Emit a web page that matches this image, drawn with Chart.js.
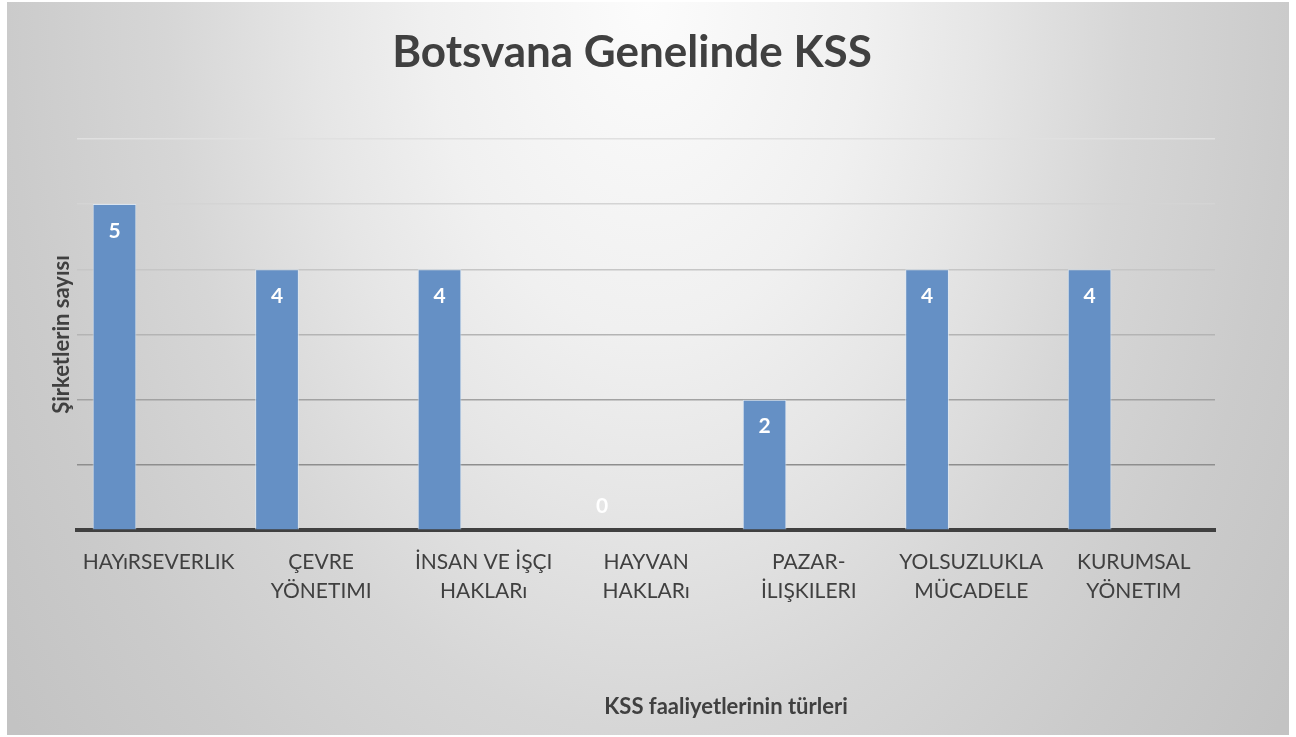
<!DOCTYPE html>
<html>
<head>
<meta charset="utf-8">
<script src="https://cdn.jsdelivr.net/npm/chart.js@4"></script>
<style>
  html, body { margin: 0; padding: 0; background: #fff; width: 1296px; height: 737px; overflow: hidden; }
  #wrap {
    position: absolute; left: 7px; top: 2px; width: 1282px; height: 733px;
    background: radial-gradient(660px 1000px at 50% 0%, #fcfcfc 0%, #f0f0f0 33%, #e6e6e6 50%, #d6d6d6 73%, #cbcbcb 97%, #c3c3c3 120%);
  }
  canvas { display: block; }
</style>
</head>
<body>
<div id="wrap"><canvas id="chart" width="1282" height="733"></canvas></div>
<script>
const categories = [
  ["HAYıRSEVERLIK"],
  ["ÇEVRE", "YÖNETIMI"],
  ["İNSAN VE İŞÇI", "HAKLARı"],
  ["HAYVAN", "HAKLARı"],
  ["PAZAR-", "İLIŞKILERI"],
  ["YOLSUZLUKLA", "MÜCADELE"],
  ["KURUMSAL", "YÖNETIM"]
];
const companies = [5, 4, 4, 0, 2, 4, 4];
// Excel chart had two more (empty) series, which is why bars sit left in each slot
const series2 = [null, null, null, null, null, null, null];
const series3 = [null, null, null, null, null, null, null];
const yMin = 0;
const yMax = 6;
const yStep = 1;

const chartTitle = "Botsvana Genelinde KSS";
const xTitle = "KSS faaliyetlerinin türleri";
const yTitle = "Şirketlerin sayısı";

const FONT = "Lato";
const gridColors = ["rgba(0,0,0,0)", "#8e8e8e", "#a2a2a2", "#b4b4b4", "#c6c6c6", "#d4d4d4", "#e0e0e0"];

const barLabels = {
  id: "barLabels",
  afterDatasetsDraw(chart) {
    const ctx = chart.ctx;
    const meta = chart.getDatasetMeta(0);
    ctx.save();
    ctx.fillStyle = "#ffffff";
    ctx.font = `bold 21px ${FONT}`;
    ctx.textAlign = "center";
    ctx.textBaseline = "middle";
    meta.data.forEach((bar, i) => {
      const v = companies[i];
      const y = v > 0 ? bar.y + 27 : bar.y - 24;
      ctx.fillText(String(v), bar.x, y);
    });
    ctx.restore();
  }
};

const xAxisTitle = {
  id: "xAxisTitle",
  afterDraw(chart) {
    const ctx = chart.ctx;
    ctx.save();
    ctx.fillStyle = "#404040";
    ctx.font = `bold 22px ${FONT}`;
    ctx.textAlign = "center";
    ctx.textBaseline = "middle";
    ctx.fillText(xTitle, 719, 705);
    ctx.restore();
  }
};

new Chart(document.getElementById("chart"), {
  type: "bar",
  data: {
    labels: categories,
    datasets: [
      { label: "Seri 1", data: companies, backgroundColor: "#6590c5", borderColor: "rgba(220,232,246,0.8)", borderWidth: 1 },
      { label: "Seri 2", data: series2, backgroundColor: "#c0504d" },
      { label: "Seri 3", data: series3, backgroundColor: "#9bbb59" }
    ]
  },
  options: {
    responsive: false,
    animation: false,
    categoryPercentage: 0.815,
    barPercentage: 0.99,
    layout: { padding: { left: 42, right: 74, top: 0, bottom: 112 } },
    plugins: {
      legend: { display: false },
      tooltip: { enabled: false },
      title: {
        display: true,
        text: chartTitle,
        color: "#404040",
        font: { family: FONT, size: 44, weight: "bold", lineHeight: 1.2 },
        padding: { top: 24, bottom: 60 }
      }
    },
    scales: {
      x: {
        grid: { display: false, drawTicks: false },
        border: { display: true, color: "#404040", width: 4 },
        ticks: {
          color: "#404040",
          font: { family: FONT, size: 21, lineHeight: 1.4 },
          padding: 17,
          maxRotation: 0,
          autoSkip: false
        }
      },
      y: {
        min: yMin,
        max: yMax,
        ticks: { display: false, stepSize: yStep },
        grid: { color: c => gridColors[c.index] || "#e0e0e0", lineWidth: 1.5, drawTicks: false },
        border: { display: false },
        title: {
          display: true,
          text: yTitle,
          color: "#404040",
          font: { family: FONT, size: 22, weight: "bold", lineHeight: 1.2 },
          padding: { top: 0, bottom: 2 }
        }
      }
    }
  },
  plugins: [barLabels, xAxisTitle]
});
</script>
</body>
</html>
